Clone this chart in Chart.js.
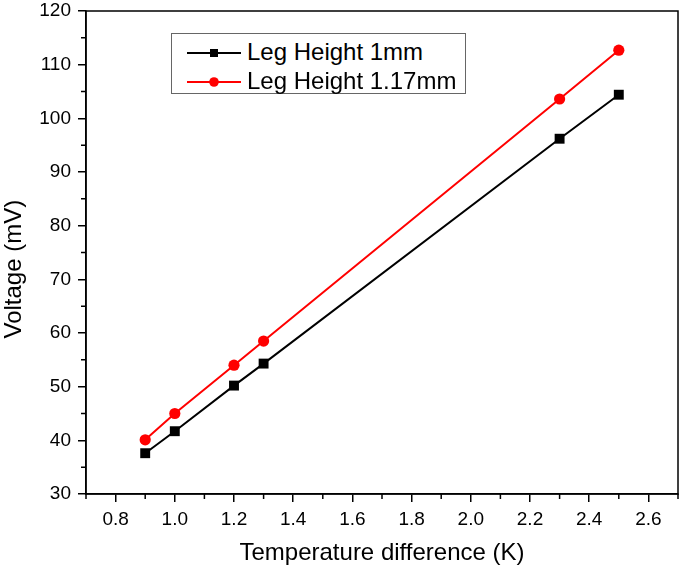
<!DOCTYPE html>
<html>
<head>
<meta charset="utf-8">
<script src="https://cdn.jsdelivr.net/npm/chart.js@4/dist/chart.umd.min.js"></script>
<style>
html,body{margin:0;padding:0;background:#fff;}
#wrap{position:relative;width:685px;height:572px;}
#legend{position:absolute;left:171px;top:33px;width:295px;height:61px;border:1px solid #666;box-sizing:border-box;background:#fff;
  font-family:"Liberation Sans",Arial,sans-serif;font-size:24px;color:#000;}
#legend svg{position:absolute;left:14px;width:56px;height:14px;}
#legend span{position:absolute;left:75px;line-height:28px;height:28px;white-space:nowrap;}
</style>
</head>
<body>
<div id="wrap">
<canvas id="c" width="685" height="572"></canvas>
<div id="legend">
  <svg style="top:12px" viewBox="0 0 56 14"><line x1="1" y1="7" x2="55" y2="7" stroke="#000" stroke-width="2"/><rect x="24" y="3" width="8" height="8" fill="#000"/></svg>
  <span style="top:4px">Leg Height 1mm</span>
  <svg style="top:41px" viewBox="0 0 56 14"><line x1="1" y1="7" x2="55" y2="7" stroke="#f00" stroke-width="2"/><circle cx="28" cy="7" r="4.8" fill="#f00"/></svg>
  <span style="top:33px">Leg Height 1.17mm</span>
</div>
</div>
<script>
// ---- data ----
const temps = [0.9, 1.0, 1.2, 1.3, 2.3, 2.5];
const leg1mm = [37.6, 41.7, 50.2, 54.3, 96.2, 104.4];
const leg117mm = [40.1, 45.0, 54.0, 58.5, 103.6, 112.7];
const xTicks = [0.8, 1.0, 1.2, 1.4, 1.6, 1.8, 2.0, 2.2, 2.4, 2.6];
const yTicks = [30, 40, 50, 60, 70, 80, 90, 100, 110, 120];
const xMinorTicks = [0.7, 0.9, 1.1, 1.3, 1.5, 1.7, 1.9, 2.1, 2.3, 2.5, 2.7];
const yMinorTicks = [35, 45, 55, 65, 75, 85, 95, 105, 115];
const seriesNames = ['Leg Height 1mm', 'Leg Height 1.17mm'];

const FAMILY = '"Liberation Sans", Arial, sans-serif';

const frameTicks = {
  id: 'frameTicks',
  afterDraw(chart) {
    const {ctx, chartArea: a, scales: {x, y}} = chart;
    ctx.save();
    ctx.strokeStyle = '#000';
    ctx.lineWidth = 1.5;
    ctx.strokeRect(a.left, a.top, a.right - a.left, a.bottom - a.top);
    ctx.beginPath();
    xMinorTicks.forEach(v => { const p = x.getPixelForValue(v); ctx.moveTo(p, a.bottom); ctx.lineTo(p, a.bottom + 5); });
    yMinorTicks.forEach(v => { const p = y.getPixelForValue(v); ctx.moveTo(a.left, p); ctx.lineTo(a.left - 5, p); });
    ctx.stroke();
    ctx.restore();
  }
};

new Chart(document.getElementById('c'), {
  type: 'line',
  data: {
    datasets: [
      {
        label: seriesNames[0],
        data: temps.map((t, i) => ({x: t, y: leg1mm[i]})),
        borderColor: '#000', backgroundColor: '#000', borderWidth: 2,
        pointStyle: 'rect', pointRadius: 7, pointBorderWidth: 0, pointBackgroundColor: '#000'
      },
      {
        label: seriesNames[1],
        data: temps.map((t, i) => ({x: t, y: leg117mm[i]})),
        borderColor: '#ff0000', backgroundColor: '#ff0000', borderWidth: 2,
        pointStyle: 'circle', pointRadius: 5.6, pointBorderWidth: 0, pointBackgroundColor: '#ff0000'
      }
    ]
  },
  options: {
    responsive: false,
    animation: false,
    devicePixelRatio: 1,
    layout: {padding: {left: 0, right: 5, top: 11, bottom: 0}},
    plugins: {legend: {display: false}, tooltip: {enabled: false}},
    scales: {
      x: {
        type: 'linear', min: 0.7, max: 2.7,
        afterBuildTicks: s => { s.ticks = xTicks.map(v => ({value: v})); },
        afterFit: s => { s.height = 78; s.paddingLeft = 0; s.paddingRight = 0; },
        grid: {drawOnChartArea: false, drawTicks: true, tickLength: 8, color: '#000', lineWidth: 1.5},
        border: {display: true, color: '#000', width: 1.5},
        ticks: {color: '#000', font: {family: FAMILY, size: 19, lineHeight: 1}, padding: 8,
                maxRotation: 0, autoSkip: false, callback: v => Number(v).toFixed(1)},
        title: {display: true, text: 'Temperature difference (K)', color: '#000',
                font: {family: FAMILY, size: 24}, padding: {top: 0, bottom: 4}}
      },
      y: {
        type: 'linear', min: 30, max: 120,
        afterBuildTicks: s => { s.ticks = yTicks.map(v => ({value: v})); },
        afterFit: s => { s.width = 86; s.paddingTop = 0; s.paddingBottom = 0; },
        grid: {drawOnChartArea: false, drawTicks: true, tickLength: 8, color: '#000', lineWidth: 1.5},
        border: {display: true, color: '#000', width: 1.5},
        ticks: {color: '#000', font: {family: FAMILY, size: 19, lineHeight: 1}, padding: 7,
                autoSkip: false, callback: v => String(v)},
        title: {display: true, text: 'Voltage (mV)\u00a0\u00a0\u00a0\u00a0\u00a0', color: '#000',
                font: {family: FAMILY, size: 24}, padding: {top: 0, bottom: 0}}
      }
    }
  },
  plugins: [frameTicks]
});
</script>
</body>
</html>
